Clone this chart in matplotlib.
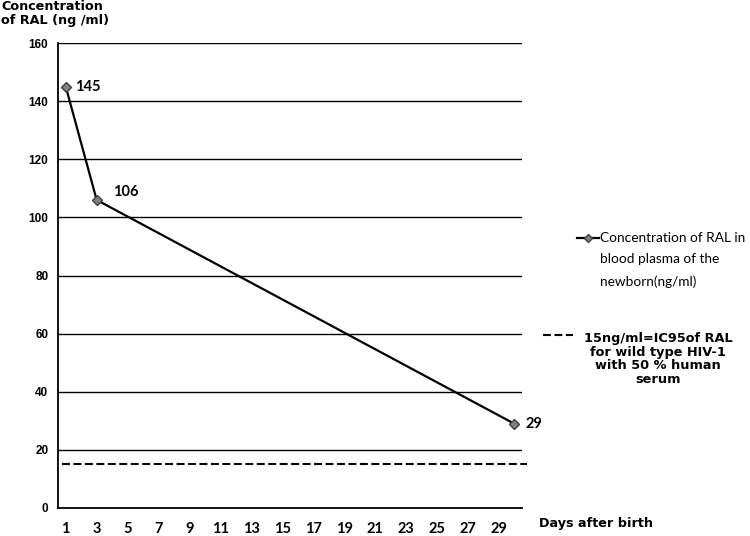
import matplotlib
matplotlib.use("Agg")
import matplotlib.pyplot as plt
from matplotlib.lines import Line2D

# ---- data ----
days = [1, 3, 30]
concentration = [145, 106, 29]
threshold = 15
x_ticks = list(range(1, 30, 2))
y_ticks = list(range(0, 161, 20))
n_days = 30

series_label = "Concentration of RAL in\nblood plasma of the\nnewborn(ng/ml)"
threshold_label = "15ng/ml=IC95of RAL\nfor wild type HIV-1\nwith 50 % human\nserum"
y_title = "Concentration\nof RAL (ng /ml)"
x_title = "Days after birth"

W, H = 750, 536
fig = plt.figure(figsize=(W / 100, H / 100), dpi=100)
L, R, T, B = 58, 522, 43, 508
ax = fig.add_axes([L / W, 1 - B / H, (R - L) / W, (B - T) / H])

# gridlines
for v in y_ticks[1:]:
    ax.axhline(v, color="black", lw=1.0, zorder=1)

# threshold dashed line (extends a bit beyond plot)
ax.plot([0.75, n_days + 0.8], [threshold, threshold], color="black", lw=1.5,
        linestyle=(0, (3.8, 1.7)), clip_on=False, zorder=2)
ax.annotate(str(threshold), xy=(n_days + 0.8, threshold), xytext=(3, 0),
            textcoords="offset points", va="center", ha="left",
            fontsize=10.5, family="Lato", clip_on=False)

# main series
ax.plot(days, concentration, color="black", lw=1.6, marker="D", markersize=5,
        markerfacecolor="#7f7f7f", markeredgecolor="#3f3f3f", zorder=3,
        clip_on=False)

label_offsets = [(7, 0), (12, 6), (8, 0)]
for d, c, off in zip(days, concentration, label_offsets):
    ax.annotate(str(c), xy=(d, c), xytext=off, textcoords="offset points",
                ha="left", va="center", fontsize=10.5, fontweight="bold",
                family="Lato")

ax.set_xlim(0.5, n_days + 0.5)
ax.set_ylim(0, 160)
ax.set_xticks(x_ticks)
ax.set_xticklabels([str(x) for x in x_ticks], fontweight="bold",
                   family="Lato", fontsize=10.5)
ax.set_yticks(y_ticks)
ax.set_yticklabels([str(y) for y in y_ticks], fontweight="bold",
                   family="Liberation Sans", fontsize=8.5)
ax.tick_params(axis="x", length=0, pad=10)
ax.tick_params(axis="y", length=0, pad=7)
for s in ["top", "right"]:
    ax.spines[s].set_visible(False)
for s in ["left", "bottom"]:
    ax.spines[s].set_linewidth(1.3)

# titles
fig.text(1 / W, 1 - 0 / H, y_title, ha="left", va="top", fontsize=9.2,
         fontweight="bold", family="DejaVu Sans", linespacing=1.1)
fig.text(539 / W, 1 - 523 / H, x_title, ha="left", va="center", fontsize=9.2,
         fontweight="bold", family="DejaVu Sans")

# legend 1 (manual)
y1 = 1 - 238 / H
fig.add_artist(Line2D([577 / W, 599 / W], [y1, y1], color="black", lw=1.6,
                      transform=fig.transFigure))
fig.add_artist(Line2D([588 / W], [y1], marker="D", markersize=4,
                      markerfacecolor="#7f7f7f", markeredgecolor="#3f3f3f",
                      transform=fig.transFigure))
fig.text(600 / W, 1 - 260 / H, series_label, ha="left", va="center",
         fontsize=9.8, family="Lato", linespacing=1.9)

# legend 2 (manual)
y2 = 1 - 335 / H
fig.add_artist(Line2D([543 / W, 573 / W], [y2, y2], color="black", lw=1.5,
                      linestyle=(0, (3.8, 1.7)), transform=fig.transFigure))
fig.text(658 / W, 1 - 359 / H, threshold_label, ha="center", va="center",
         multialignment="center", fontsize=9.3, fontweight="bold",
         family="DejaVu Sans", linespacing=1.05)

fig.savefig("out.png", dpi=100)
